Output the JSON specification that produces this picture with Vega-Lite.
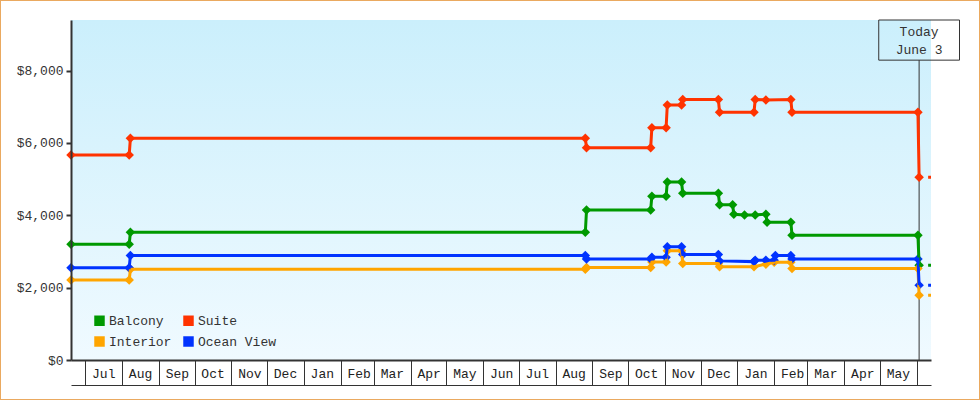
{
  "$schema": "https://vega.github.io/schema/vega-lite/v6.json",
  "width": 980,
  "height": 400,
  "padding": 0,
  "autosize": "none",
  "background": "white",
  "config": {"view": {"stroke": "#eaa960", "strokeWidth": 2, "fill": "white"}, "axis": {"grid": false}},
  "data": {"values": [
    {"series": "Balcony", "date": "2013-06-19T00:00", "price": 3200},
    {"series": "Balcony", "date": "2013-08-07T00:00", "price": 3200},
    {"series": "Balcony", "date": "2013-08-08T00:00", "price": 3530},
    {"series": "Balcony", "date": "2014-08-26T00:00", "price": 3530},
    {"series": "Balcony", "date": "2014-08-27T00:00", "price": 4150},
    {"series": "Balcony", "date": "2014-10-20T00:00", "price": 4150},
    {"series": "Balcony", "date": "2014-10-21T00:00", "price": 4530},
    {"series": "Balcony", "date": "2014-11-02T00:00", "price": 4530},
    {"series": "Balcony", "date": "2014-11-03T00:00", "price": 4920},
    {"series": "Balcony", "date": "2014-11-15T00:00", "price": 4920},
    {"series": "Balcony", "date": "2014-11-16T00:00", "price": 4610},
    {"series": "Balcony", "date": "2014-12-16T00:00", "price": 4610},
    {"series": "Balcony", "date": "2014-12-17T00:00", "price": 4290},
    {"series": "Balcony", "date": "2014-12-28T00:00", "price": 4290},
    {"series": "Balcony", "date": "2014-12-29T00:00", "price": 4030},
    {"series": "Balcony", "date": "2015-01-07T00:00", "price": 4010},
    {"series": "Balcony", "date": "2015-01-16T00:00", "price": 4010},
    {"series": "Balcony", "date": "2015-01-25T00:00", "price": 4030},
    {"series": "Balcony", "date": "2015-01-26T00:00", "price": 3810},
    {"series": "Balcony", "date": "2015-02-15T00:00", "price": 3810},
    {"series": "Balcony", "date": "2015-02-16T00:00", "price": 3450},
    {"series": "Balcony", "date": "2015-06-02T00:00", "price": 3450},
    {"series": "Balcony", "date": "2015-06-03T00:00", "price": 2620},
    {"series": "Suite", "date": "2013-06-19T00:00", "price": 5670},
    {"series": "Suite", "date": "2013-08-07T00:00", "price": 5670},
    {"series": "Suite", "date": "2013-08-08T00:00", "price": 6130},
    {"series": "Suite", "date": "2014-08-26T00:00", "price": 6130},
    {"series": "Suite", "date": "2014-08-27T00:00", "price": 5870},
    {"series": "Suite", "date": "2014-10-20T00:00", "price": 5870},
    {"series": "Suite", "date": "2014-10-21T00:00", "price": 6420},
    {"series": "Suite", "date": "2014-11-02T00:00", "price": 6420},
    {"series": "Suite", "date": "2014-11-03T00:00", "price": 7050},
    {"series": "Suite", "date": "2014-11-15T00:00", "price": 7050},
    {"series": "Suite", "date": "2014-11-16T00:00", "price": 7200},
    {"series": "Suite", "date": "2014-12-16T00:00", "price": 7200},
    {"series": "Suite", "date": "2014-12-17T00:00", "price": 6850},
    {"series": "Suite", "date": "2015-01-15T00:00", "price": 6850},
    {"series": "Suite", "date": "2015-01-16T00:00", "price": 7200},
    {"series": "Suite", "date": "2015-01-25T00:00", "price": 7190},
    {"series": "Suite", "date": "2015-02-15T00:00", "price": 7200},
    {"series": "Suite", "date": "2015-02-16T00:00", "price": 6850},
    {"series": "Suite", "date": "2015-06-02T00:00", "price": 6850},
    {"series": "Suite", "date": "2015-06-03T00:00", "price": 5050},
    {"series": "Interior", "date": "2013-06-19T00:00", "price": 2210},
    {"series": "Interior", "date": "2013-08-07T00:00", "price": 2210},
    {"series": "Interior", "date": "2013-08-08T00:00", "price": 2510},
    {"series": "Interior", "date": "2014-08-26T00:00", "price": 2510},
    {"series": "Interior", "date": "2014-08-27T00:00", "price": 2560},
    {"series": "Interior", "date": "2014-10-20T00:00", "price": 2560},
    {"series": "Interior", "date": "2014-10-21T00:00", "price": 2710},
    {"series": "Interior", "date": "2014-11-02T00:00", "price": 2710},
    {"series": "Interior", "date": "2014-11-03T00:00", "price": 3020},
    {"series": "Interior", "date": "2014-11-15T00:00", "price": 3020},
    {"series": "Interior", "date": "2014-11-16T00:00", "price": 2670},
    {"series": "Interior", "date": "2014-12-16T00:00", "price": 2670},
    {"series": "Interior", "date": "2014-12-17T00:00", "price": 2580},
    {"series": "Interior", "date": "2015-01-15T00:00", "price": 2580},
    {"series": "Interior", "date": "2015-01-25T00:00", "price": 2650},
    {"series": "Interior", "date": "2015-02-01T00:00", "price": 2700},
    {"series": "Interior", "date": "2015-02-15T00:00", "price": 2700},
    {"series": "Interior", "date": "2015-02-16T00:00", "price": 2530},
    {"series": "Interior", "date": "2015-06-02T00:00", "price": 2530},
    {"series": "Interior", "date": "2015-06-03T00:00", "price": 1790},
    {"series": "Ocean View", "date": "2013-06-19T00:00", "price": 2550},
    {"series": "Ocean View", "date": "2013-08-07T00:00", "price": 2550},
    {"series": "Ocean View", "date": "2013-08-08T00:00", "price": 2890},
    {"series": "Ocean View", "date": "2014-08-26T00:00", "price": 2890},
    {"series": "Ocean View", "date": "2014-08-27T00:00", "price": 2790},
    {"series": "Ocean View", "date": "2014-10-20T00:00", "price": 2790},
    {"series": "Ocean View", "date": "2014-10-21T00:00", "price": 2840},
    {"series": "Ocean View", "date": "2014-11-02T00:00", "price": 2840},
    {"series": "Ocean View", "date": "2014-11-03T00:00", "price": 3130},
    {"series": "Ocean View", "date": "2014-11-15T00:00", "price": 3130},
    {"series": "Ocean View", "date": "2014-11-16T00:00", "price": 2920},
    {"series": "Ocean View", "date": "2014-12-16T00:00", "price": 2920},
    {"series": "Ocean View", "date": "2014-12-17T00:00", "price": 2740},
    {"series": "Ocean View", "date": "2015-01-15T00:00", "price": 2720},
    {"series": "Ocean View", "date": "2015-01-16T00:00", "price": 2760},
    {"series": "Ocean View", "date": "2015-01-25T00:00", "price": 2760},
    {"series": "Ocean View", "date": "2015-02-01T00:00", "price": 2760},
    {"series": "Ocean View", "date": "2015-02-02T00:00", "price": 2890},
    {"series": "Ocean View", "date": "2015-02-15T00:00", "price": 2890},
    {"series": "Ocean View", "date": "2015-02-16T00:00", "price": 2790},
    {"series": "Ocean View", "date": "2015-06-02T00:00", "price": 2790},
    {"series": "Ocean View", "date": "2015-06-03T00:00", "price": 2070}
  ]},
  "resolve": {"axis": {"x": "independent"}},
  "layer": [
    {
      "data": {"values": [{}]},
      "mark": {"type": "rect", "fill": {"gradient": "linear", "x1": 0, "y1": 0, "x2": 0, "y2": 1, "stops": [{"offset": 0, "color": "#cbeffc"}, {"offset": 1, "color": "#f0faff"}]}},
      "encoding": {
        "x": {"datum": {"year": 2013, "month": 6, "date": 19}, "type": "temporal", "axis": null},
        "x2": {"datum": {"year": 2015, "month": 6, "date": 13}},
        "y": {"datum": 0, "type": "quantitative"},
        "y2": {"datum": 9400}
      }
    },
    {
      "data": {"values": [{}]},
      "mark": {"type": "rule", "color": "#333333", "strokeWidth": 1},
      "encoding": {
        "x": {"datum": {"year": 2015, "month": 6, "date": 3}, "type": "temporal", "axis": null},
        "y": {"datum": 0, "type": "quantitative"},
        "y2": {"datum": 8290}
      }
    },
    {
      "mark": {"type": "point", "shape": "diamond", "filled": true, "size": 90, "opacity": 1},
      "encoding": {
        "x": {
          "field": "date", "type": "temporal",
          "axis": {
            "orient": "bottom", "offset": -40, "title": null, "ticks": false, "domain": false,
            "format": "%b", "labelOffset": 18, "labelPadding": 7, "labelFlush": false, "labelOverlap": false, "labelBound": false,
            "labelFont": "Liberation Mono", "labelFontSize": 13, "labelColor": "#222222",
            "values": [
              {"year": 2013, "month": 7, "date": 1}, {"year": 2013, "month": 8, "date": 1}, {"year": 2013, "month": 9, "date": 1},
              {"year": 2013, "month": 10, "date": 1}, {"year": 2013, "month": 11, "date": 1}, {"year": 2013, "month": 12, "date": 1},
              {"year": 2014, "month": 1, "date": 1}, {"year": 2014, "month": 2, "date": 1}, {"year": 2014, "month": 3, "date": 1},
              {"year": 2014, "month": 4, "date": 1}, {"year": 2014, "month": 5, "date": 1}, {"year": 2014, "month": 6, "date": 1},
              {"year": 2014, "month": 7, "date": 1}, {"year": 2014, "month": 8, "date": 1}, {"year": 2014, "month": 9, "date": 1},
              {"year": 2014, "month": 10, "date": 1}, {"year": 2014, "month": 11, "date": 1}, {"year": 2014, "month": 12, "date": 1},
              {"year": 2015, "month": 1, "date": 1}, {"year": 2015, "month": 2, "date": 1}, {"year": 2015, "month": 3, "date": 1},
              {"year": 2015, "month": 4, "date": 1}, {"year": 2015, "month": 5, "date": 1}
            ]
          }
        },
        "y": {"field": "price", "type": "quantitative"},
        "color": {
          "field": "series", "type": "nominal",
          "legend": {
            "orient": "none", "legendX": 93, "legendY": 314, "columns": 2, "columnPadding": 10, "rowPadding": 7,
            "symbolType": "square", "symbolSize": 110, "symbolStrokeWidth": 0, "symbolOpacity": 1,
            "labelFont": "Liberation Mono", "labelFontSize": 13, "labelColor": "#333333", "labelOffset": 3,
            "title": null, "padding": 0
          }
        }
      }
    },
    {
      "mark": {"type": "line", "strokeWidth": 3},
      "encoding": {
        "x": {
          "field": "date", "type": "temporal",
          "scale": {"domain": [{"year": 2013, "month": 6, "date": 19}, {"year": 2015, "month": 6, "date": 13}], "range": [71, 931]},
          "axis": {
            "orient": "bottom", "offset": -40, "zindex": 1, "title": null, "labels": false,
            "ticks": true, "tickSize": 25, "tickWidth": 1, "tickColor": "#333333",
            "domain": true, "domainColor": "#333333", "domainWidth": 2,
            "values": [
              {"year": 2013, "month": 7, "date": 1}, {"year": 2013, "month": 8, "date": 1}, {"year": 2013, "month": 9, "date": 1},
              {"year": 2013, "month": 10, "date": 1}, {"year": 2013, "month": 11, "date": 1}, {"year": 2013, "month": 12, "date": 1},
              {"year": 2014, "month": 1, "date": 1}, {"year": 2014, "month": 2, "date": 1}, {"year": 2014, "month": 3, "date": 1},
              {"year": 2014, "month": 4, "date": 1}, {"year": 2014, "month": 5, "date": 1}, {"year": 2014, "month": 6, "date": 1},
              {"year": 2014, "month": 7, "date": 1}, {"year": 2014, "month": 8, "date": 1}, {"year": 2014, "month": 9, "date": 1},
              {"year": 2014, "month": 10, "date": 1}, {"year": 2014, "month": 11, "date": 1}, {"year": 2014, "month": 12, "date": 1},
              {"year": 2015, "month": 1, "date": 1}, {"year": 2015, "month": 2, "date": 1}, {"year": 2015, "month": 3, "date": 1},
              {"year": 2015, "month": 4, "date": 1}, {"year": 2015, "month": 5, "date": 1}, {"year": 2015, "month": 6, "date": 1}
            ]
          }
        },
        "y": {
          "field": "price", "type": "quantitative",
          "scale": {"domain": [0, 9400], "range": [360, 20], "nice": false, "zero": false},
          "axis": {
            "orient": "left", "offset": -71, "zindex": 1, "title": null,
            "values": [0, 2000, 4000, 6000, 8000], "format": "$,.0f",
            "domainColor": "#333333", "domainWidth": 2,
            "tickColor": "#333333", "tickWidth": 2, "tickSize": 5,
            "labelPadding": 3, "labelFont": "Liberation Mono", "labelFontSize": 13, "labelColor": "#333333"
          }
        },
        "color": {
          "field": "series", "type": "nominal",
          "scale": {"domain": ["Balcony", "Interior", "Suite", "Ocean View"], "range": ["#009900", "#ffa500", "#ff3300", "#0033ff"]}
        }
      }
    },
    {
      "transform": [{"filter": {"field": "date", "equal": {"year": 2015, "month": 6, "date": 3}}}],
      "mark": {"type": "rule", "strokeWidth": 3, "strokeDash": [3, 6]},
      "encoding": {
        "x": {
          "field": "date", "type": "temporal",
          "axis": {"orient": "bottom", "offset": -15, "zindex": 1, "title": null, "labels": false, "ticks": false, "domain": true, "domainColor": "#333333", "domainWidth": 1}
        },
        "x2": {"datum": {"year": 2015, "month": 6, "date": 13}},
        "y": {"field": "price", "type": "quantitative"},
        "color": {"field": "series", "type": "nominal"}
      }
    },
    {
      "data": {"values": [{}]},
      "mark": {"type": "rect", "filled": false, "stroke": "#333333", "strokeWidth": 1},
      "encoding": {
        "x": {"datum": {"year": 2015, "month": 4, "date": 30}, "type": "temporal", "axis": null},
        "x2": {"datum": {"year": 2015, "month": 7, "date": 7}},
        "y": {"datum": 9400, "type": "quantitative"},
        "y2": {"datum": 8290}
      }
    },
    {
      "data": {"values": [{}]},
      "mark": {"type": "text", "text": ["Today", "June 3"], "lineHeight": 18, "baseline": "top", "align": "center", "font": "Liberation Mono", "fontSize": 13, "fontWeight": "normal", "fill": "#333333"},
      "encoding": {
        "x": {"datum": {"year": 2015, "month": 6, "date": 3}, "type": "temporal", "axis": null},
        "y": {"datum": 9234, "type": "quantitative"}
      }
    }
  ]
}
